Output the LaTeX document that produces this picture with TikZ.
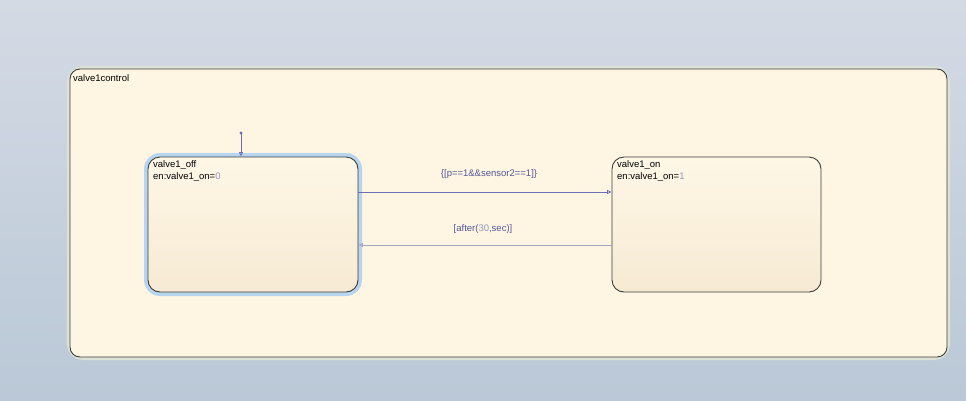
\documentclass[tikz,border=0pt]{standalone}
\usepackage{fontspec}
\setmainfont{Liberation Sans}
\usetikzlibrary{arrows.meta}
\definecolor{bgtop}{HTML}{D4DAE4}
\definecolor{bgbot}{HTML}{BAC8D7}
\definecolor{chartfill}{HTML}{FEF6E2}
\definecolor{glow}{HTML}{DDE2D6}
\definecolor{border}{HTML}{3C3C3C}
\definecolor{sttop}{HTML}{FEF7E6}
\definecolor{stbot}{HTML}{F6EAD3}
\definecolor{selblue}{HTML}{B8D5F0}
\definecolor{trans}{HTML}{6E6EB4}
\definecolor{transtwo}{HTML}{A6A6C4}
\definecolor{lbl}{HTML}{55559A}
\definecolor{num}{HTML}{9494BC}
\tikzset{
  statebox/.style={draw=border, line width=0.9pt, rounded corners=12pt, top color=sttop, bottom color=stbot, minimum width=210pt, minimum height=135pt, inner sep=0pt},
  txt/.style={font=\fontsize{9.5}{11.5}\selectfont, inner sep=0pt, align=left, anchor=north west, text=black},
  tlbl/.style={font=\fontsize{9.5}{11.5}\selectfont, inner sep=0pt, text=lbl},
  tr/.style={line width=0.8pt, -{Triangle[open,length=4.5pt,width=4pt]}},
}
\begin{document}
\begin{tikzpicture}[x=1pt,y=-1pt]
\useasboundingbox (0,0) rectangle (966,400);
\fill[top color=bgtop, bottom color=bgbot] (0,0) rectangle (966,400);
% chart glow and body
\draw[glow, line width=6pt, rounded corners=13pt] (70,69) rectangle (947,357);
\node[draw=border, line width=0.9pt, rounded corners=10pt, fill=chartfill, minimum width=877pt, minimum height=288pt, inner sep=0pt] (chart) at (508.5,213) {};
\node[txt] (chartname) at (73,74.5) {valve1control};
% selection highlight
\draw[selblue, line width=4pt, rounded corners=14pt] (146,155) rectangle (360,294);
\node[statebox] (off) at (253,224.5) {};
\node[statebox, minimum width=209pt] (on) at (716.5,224.5) {};
\node[txt] (offname) at (153,160.5) {valve1\_off\\en:valve1\_on=\textcolor{num}{0}};
\node[txt] (onname) at (617,160.5) {valve1\_on\\en:valve1\_on=\textcolor{num}{1}};
% default transition
\fill[trans] (241,133) circle (1.6pt);
\coordinate (dsrc) at (241,133);
\draw[tr, trans] (dsrc) -- (off.north -| dsrc);
% transitions
\coordinate (t1) at (0,192);
\coordinate (t2) at (0,245);
\draw[tr, trans] (off.east |- t1) -- (on.west |- t1);
\draw[tr, transtwo] (on.west |- t2) -- (off.east |- t2);
\node[tlbl] (l1) at (489,174) {\{[p==1\&\&sensor2==1]\}};
\node[tlbl] (l2) at (483,229) {[after(\textcolor{num}{30},sec)]};
\end{tikzpicture}
\end{document}
